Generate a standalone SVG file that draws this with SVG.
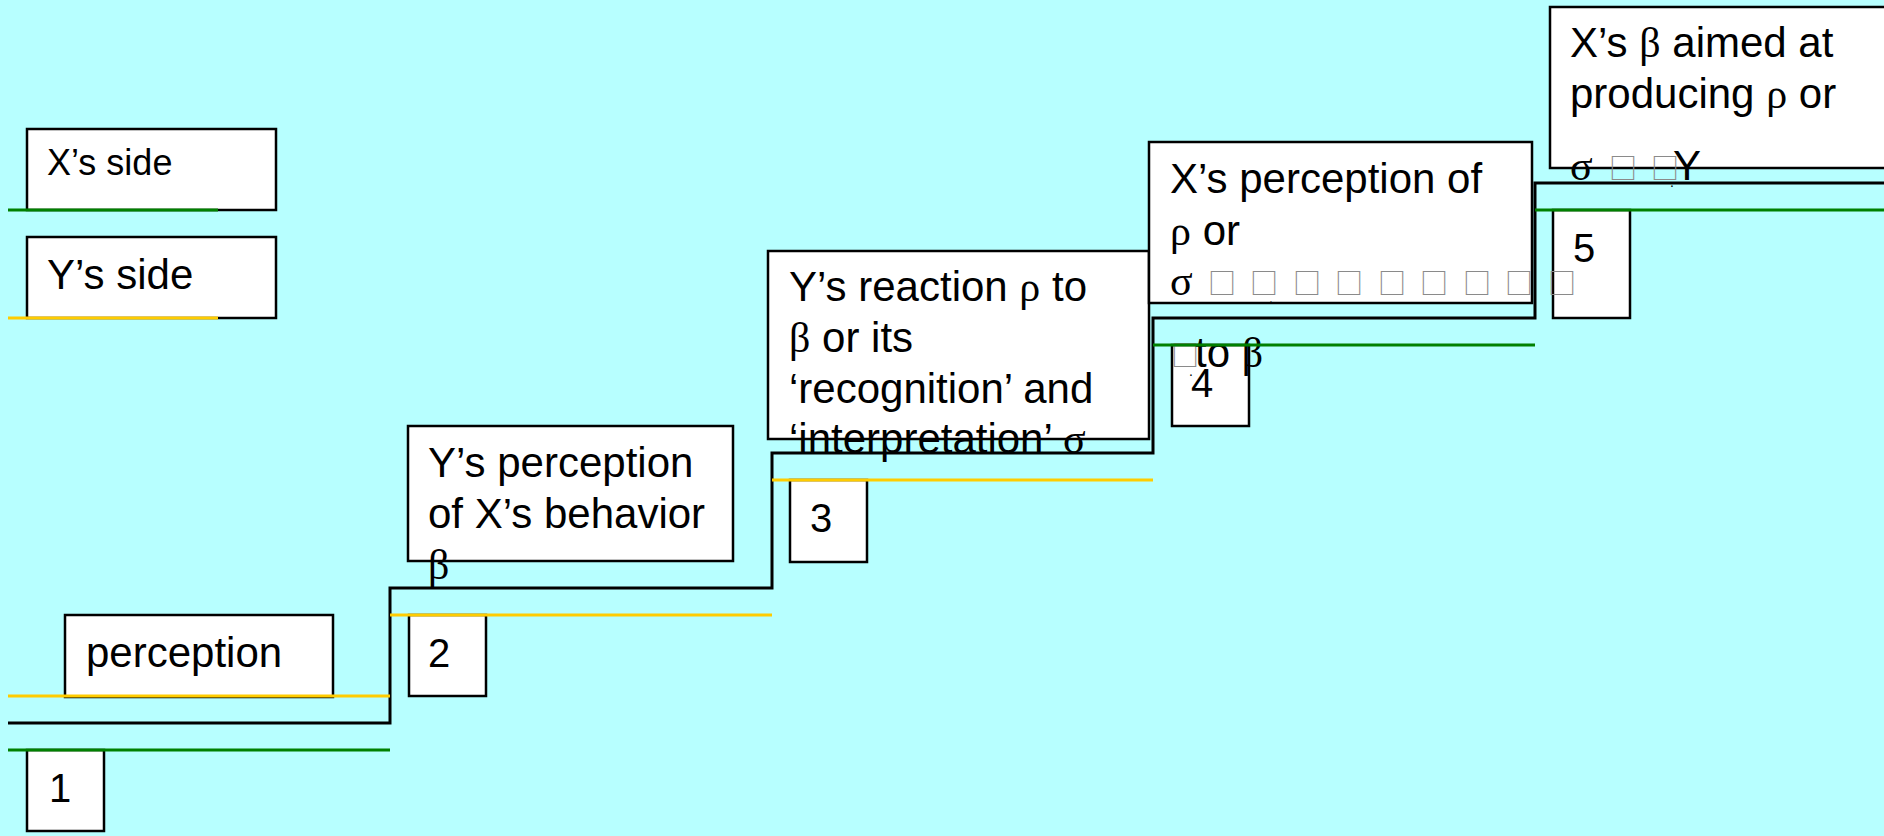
<svg xmlns="http://www.w3.org/2000/svg" width="1884" height="836" viewBox="0 0 1884 836">
<style>
.bx{fill:#ffffff;stroke:#000000;stroke-width:2.5}
.t{font-family:"Liberation Sans",Arial,sans-serif;font-size:42px;fill:#000}
.g{font-family:"Liberation Serif","Times New Roman",serif}
.tofu{font-family:"Noto Sans CJK SC","Noto Sans CJK JP",sans-serif;font-size:28px;fill:#8a8a8a}
.step{fill:none;stroke:#000;stroke-width:3}
.yel{stroke:#FFCC00;stroke-width:3}
.grn{stroke:#008000;stroke-width:3}
</style>
<rect x="0" y="0" width="1884" height="836" fill="#B7FFFF"/>

<g id="node-xside">
<rect class="bx" x="27" y="129" width="249" height="81"/>
<text class="t" x="47" y="175" style="font-size:36px">X’s side</text>
</g>
<g id="node-yside">
<rect class="bx" x="27" y="237" width="249" height="81"/>
<text class="t" x="47" y="289">Y’s side</text>
</g>
<g id="node-perception">
<rect class="bx" x="65" y="615" width="268" height="82"/>
<text class="t" x="86" y="667">perception</text>
</g>
<g id="node-1">
<rect class="bx" x="27" y="750" width="77" height="81"/>
<text class="t" x="49" y="802" style="font-size:40px">1</text>
</g>
<g id="node-2">
<rect class="bx" x="409" y="615" width="77" height="81"/>
<text class="t" x="428" y="667" style="font-size:40px">2</text>
</g>
<g id="node-3">
<rect class="bx" x="790" y="480" width="77" height="82"/>
<text class="t" x="810" y="532" style="font-size:40px">3</text>
</g>
<g id="node-4">
<rect class="bx" x="1172" y="345" width="77" height="81"/>
<text class="t" x="1191" y="397" style="font-size:40px">4</text>
</g>
<g id="node-5">
<rect class="bx" x="1553" y="210" width="77" height="108"/>
<text class="t" x="1573" y="262" style="font-size:40px">5</text>
</g>

<g id="node-yperception">
<rect class="bx" x="408" y="426" width="325" height="135"/>
<text class="t" x="428" y="477">Y’s perception</text>
<text class="t" x="428" y="528">of X’s behavior</text>
<text class="t g" x="428" y="579">β</text>
</g>

<g id="node-yreaction">
<rect class="bx" x="768" y="251" width="381" height="188"/>
<text class="t" x="789" y="301">Y’s reaction <tspan class="g">ρ</tspan> to</text>
<text class="t" x="789" y="352"><tspan class="g">β</tspan> or its</text>
<text class="t" x="789" y="403">‘recognition’ and</text>
<text class="t" x="789" y="453">‘interpretation’ <tspan class="g">σ</tspan></text>
</g>

<g id="node-xperception">
<rect class="bx" x="1149" y="142" width="383" height="161"/>
<text class="t" x="1170" y="193">X’s perception of</text>
<text class="t" x="1170" y="245"><tspan class="g">ρ</tspan> or</text>
<text class="t g" x="1170" y="295">σ</text>
<text class="tofu" x="1208 1250 1293 1335 1378 1420 1463 1505 1548" y="294">□□□□□□□□□</text>
<text class="t" x="1269" y="303" style="font-size:14px">.</text>
<text class="tofu" x="1171" y="366">□</text>
<text class="t" x="1195" y="367">to <tspan class="g">β</tspan></text>
<text class="t" x="1189" y="376" style="font-size:14px">.</text>
</g>

<g id="node-xbeta">
<rect class="bx" x="1550" y="7" width="350" height="161"/>
<text class="t" x="1570" y="57">X’s <tspan class="g">β</tspan> aimed at</text>
<text class="t" x="1570" y="108">producing <tspan class="g">ρ</tspan> or</text>
<text class="t g" x="1570" y="180">σ</text>
<text class="tofu" x="1609 1651" y="179">□□</text>
<text class="t" x="1673" y="180">Y</text>
<text class="t" x="1670" y="187" style="font-size:14px">.</text>
</g>

<g id="connectors">
<path class="step" d="M8,723 H390 V588 H772 V453 H1153 V318 H1535 V183 H1884"/>
<line class="grn" x1="8" y1="210" x2="218" y2="210"/>
<line class="yel" x1="8" y1="318" x2="218" y2="318"/>
<line class="yel" x1="8" y1="696" x2="390" y2="696"/>
<line class="grn" x1="8" y1="750" x2="390" y2="750"/>
<line class="yel" x1="390" y1="615" x2="772" y2="615"/>
<line class="yel" x1="772" y1="480" x2="1153" y2="480"/>
<line class="grn" x1="1153" y1="345" x2="1535" y2="345"/>
<line class="grn" x1="1535" y1="210" x2="1884" y2="210"/>
</g>
</svg>
